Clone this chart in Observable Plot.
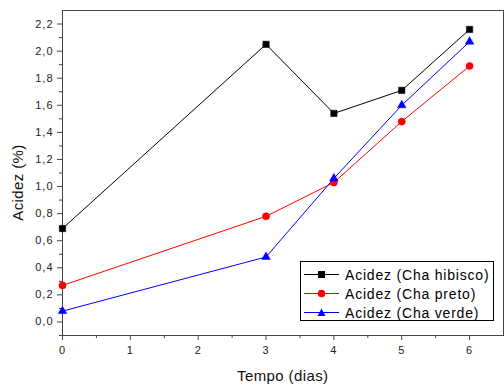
<!DOCTYPE html>
<html><head><meta charset="utf-8">
<script src="https://cdn.jsdelivr.net/npm/d3@7"></script>
<script src="https://cdn.jsdelivr.net/npm/@observablehq/plot@0.6"></script>
<style>
body{margin:0;background:#fff;font-family:"Liberation Sans",Arial,sans-serif;}
#wrap{position:relative;width:504px;height:385px;}
#legend{position:absolute;left:300px;top:261px;width:192px;height:58px;border:1px solid #000;background:#fff;font-size:14px;letter-spacing:0.8px;color:#000;}
#legend .row{position:absolute;left:0;height:19px;display:flex;align-items:center;white-space:nowrap;}
#legend svg{margin-left:3px;margin-right:5px;}
.atitle{position:absolute;font-size:15px;letter-spacing:0.4px;color:#111;white-space:nowrap;line-height:15px;}
</style></head>
<body><div id="wrap"></div>
<script>
const days = [0, 3, 4, 5, 6];
const hibisco = [0.69, 2.05, 1.54, 1.71, 2.16];
const preto = [0.27, 0.78, 1.03, 1.48, 1.89];
const verde = [0.08, 0.48, 1.06, 1.60, 2.07];
const seriesNames = ["Acidez (Cha hibisco)", "Acidez (Cha preto)", "Acidez (Cha verde)"];
const seriesColors = ["#000000", "#ff0000", "#0000ff"];
const seriesSymbols = ["square", "circle", "triangle"];
const yMajor = [0, 0.2, 0.4, 0.6, 0.8, 1.0, 1.2, 1.4, 1.6, 1.8, 2.0, 2.2];
const yMinor = [-0.1, 0.1, 0.3, 0.5, 0.7, 0.9, 1.1, 1.3, 1.5, 1.7, 1.9, 2.1];
const xMajor = [0, 1, 2, 3, 4, 5, 6];
const xMinor = [0.5, 1.5, 2.5, 3.5, 4.5, 5.5];
const xTitle = "Tempo (dias)";
const yTitle = "Acidez (%)";

const allSeries = [hibisco, preto, verde];
const rows = [];
allSeries.forEach((vals, s) => vals.forEach((v, i) => rows.push({x: days[i], y: v, s: seriesNames[s]})));

const fmt = d => d.toFixed(1).replace(".", ",");
const axisColor = "#444";
const dotR = [3.6, 3.6, 3.2];

const marks = [
  Plot.frame({stroke: axisColor}),
  Plot.axisY(yMajor, {tickSize: 5, tickPadding: 4, tickFormat: fmt, stroke: axisColor, fill: "#222", label: null}),
  Plot.axisY(yMinor, {tickSize: 3, tickFormat: () => "", stroke: axisColor, label: null}),
  Plot.axisX(xMajor, {tickSize: 5, tickPadding: 6, tickFormat: d => String(d), stroke: axisColor, fill: "#222", label: null}),
  Plot.axisX(xMinor, {tickSize: 3, tickFormat: () => "", stroke: axisColor, label: null})
];
seriesNames.forEach((name, s) => {
  const d = rows.filter(r => r.s === name);
  marks.push(Plot.line(d, {x: "x", y: "y", stroke: seriesColors[s], strokeWidth: 1}));
  marks.push(Plot.dot(d, {x: "x", y: "y", fill: seriesColors[s], stroke: seriesColors[s], strokeWidth: 0.5, symbol: seriesSymbols[s], r: dotR[s]}));
});

const chart = Plot.plot({
  width: 504, height: 385,
  marginLeft: 62, marginTop: 10, marginRight: 1, marginBottom: 50,
  style: {fontFamily: "Liberation Sans, Arial, sans-serif", fontSize: "11px", letterSpacing: "1px", background: "#fff"},
  x: {domain: [0, 6.5], label: null},
  y: {domain: [-0.1, 2.3], label: null},
  marks
});
const wrap = document.getElementById("wrap");
wrap.appendChild(chart);

const xt = document.createElement("div");
xt.className = "atitle"; xt.textContent = xTitle;
wrap.appendChild(xt);
xt.style.left = (283 - xt.offsetWidth / 2) + "px";
xt.style.top = (376 - 8) + "px";

const yt = document.createElement("div");
yt.className = "atitle"; yt.textContent = yTitle;
wrap.appendChild(yt);
const w = yt.offsetWidth;
yt.style.left = (17 - w / 2) + "px";
yt.style.top = (182 - 7.5) + "px";
yt.style.transform = "rotate(-90deg)";
yt.style.transformOrigin = "50% 50%";

const legend = document.createElement("div");
legend.id = "legend";
const shapes = [
  '<rect x="14" y="3" width="7" height="7"/>',
  '<circle cx="17.5" cy="6.5" r="3.8"/>',
  '<polygon points="17.5,2.5 21.5,10 13.5,10"/>'
];
seriesNames.forEach((name, s) => {
  const row = document.createElement("div");
  row.className = "row";
  row.style.top = (3 + s * 19) + "px";
  row.innerHTML = `<svg width="36" height="13"><line x1="0" x2="35" y1="6.5" y2="6.5" stroke="${seriesColors[s]}" stroke-width="1"/><g fill="${seriesColors[s]}">${shapes[s]}</g></svg><span>${name}</span>`;
  legend.appendChild(row);
});
wrap.appendChild(legend);
</script></body></html>
